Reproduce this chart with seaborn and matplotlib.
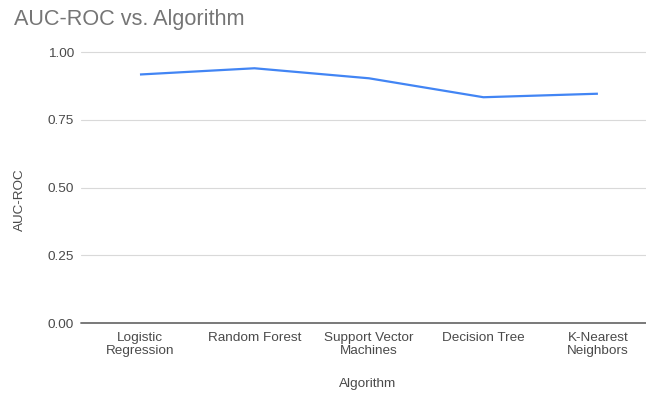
import matplotlib
matplotlib.use("Agg")
import matplotlib.pyplot as plt
import seaborn as sns
import pandas as pd

algorithms = ["Logistic\nRegression", "Random Forest", "Support Vector\nMachines",
              "Decision Tree", "K-Nearest\nNeighbors"]
auc_roc = [0.918, 0.941, 0.904, 0.834, 0.847]
y_ticks = [0.0, 0.25, 0.5, 0.75, 1.0]
y_tick_labels = ["0.00", "0.25", "0.50", "0.75", "1.00"]

sns.set_theme(style="white")
plt.rcParams["font.family"] = ["Liberation Sans", "DejaVu Sans"]

W, H = 646, 394
fig = plt.figure(figsize=(W / 100, H / 100), dpi=100)
left, right, top, bottom = 81, 646, 52.3, 323
ax = fig.add_axes([left / W, 1 - bottom / H, (right - left) / W, (bottom - top) / H])

df = pd.DataFrame({"Algorithm": algorithms, "AUC-ROC": auc_roc})
sns.lineplot(data=df, x="Algorithm", y="AUC-ROC", ax=ax, color="#4285F4",
             linewidth=1.6, sort=False)
for ln in ax.get_lines():
    ln.set_clip_on(False)
    ln.set_solid_capstyle("butt")

ax.set_xlim(-0.515, 4.42)
ax.set_ylim(0, 1.0)
ax.set_yticks(y_ticks)
ax.set_yticklabels(y_tick_labels)
ax.set_xticks(range(len(algorithms)))
ax.set_xticklabels(algorithms, linespacing=1.15)

for y in y_ticks:
    ax.axhline(y, color="#6e6e6e" if y == 0 else "#d9d9d9",
               linewidth=1.3 if y == 0 else 0.8, zorder=0, clip_on=False)

for s in ax.spines.values():
    s.set_visible(False)
ax.grid(False)
ax.tick_params(axis="y", length=0, pad=5, labelsize=9.7, labelcolor="#4a4a4a")
ax.tick_params(axis="x", length=0, pad=6.5, labelsize=9.7, labelcolor="#4a4a4a")

ax.set_xlabel("")
ax.set_ylabel("")
fig.text(368 / W, 1 - 384 / H, "Algorithm", ha="center", va="center",
         fontsize=9.7, color="#4a4a4a")
fig.text(20 / W, 1 - 200 / H, "AUC-ROC", ha="center", va="center",
         rotation=90, fontsize=9.7, color="#4a4a4a")
fig.text(14 / W, 1 - 20 / H, "AUC-ROC vs. Algorithm", ha="left", va="center",
         fontsize=15.6, color="#757575")

fig.savefig("out.png", dpi=100)
